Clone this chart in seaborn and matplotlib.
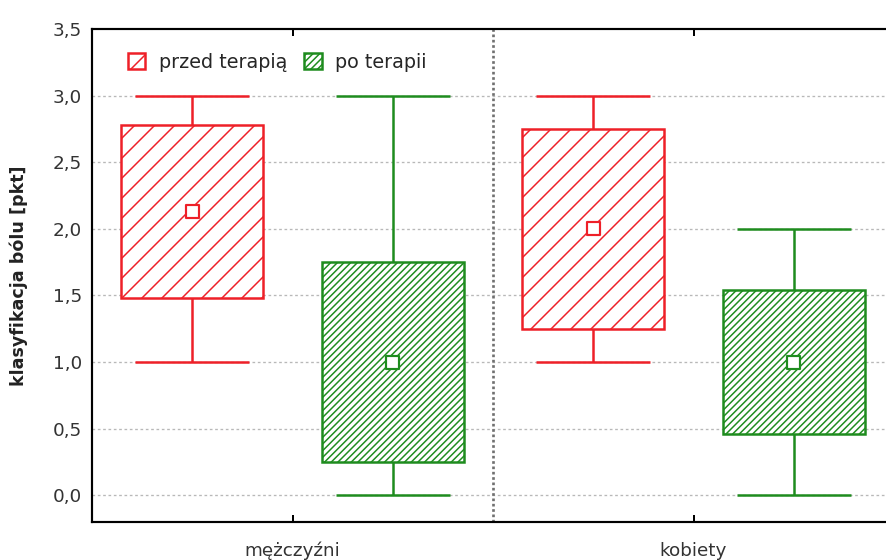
import matplotlib
matplotlib.use("Agg")
import matplotlib.pyplot as plt
from matplotlib.patches import Patch
import pandas as pd
import seaborn as sns

# Groups and series
groups = ["mężczyźni", "kobiety"]
series = ["przed terapią", "po terapii"]

# Mean ± SD boxes, min–max whiskers
mean_before = [2.13, 2.00]
sd_before = [0.65, 0.75]
min_before = [1.0, 1.0]
max_before = [3.0, 3.0]

mean_after = [1.00, 1.00]
sd_after = [0.75, 0.54]
min_after = [0.0, 0.0]
max_after = [3.0, 2.0]

y_ticks = [0.0, 0.5, 1.0, 1.5, 2.0, 2.5, 3.0, 3.5]
y_tick_labels = ["0,0", "0,5", "1,0", "1,5", "2,0", "2,5", "3,0", "3,5"]

sns.set_style("white")
plt.rcParams["font.family"] = ["DejaVu Sans"]
plt.rcParams["hatch.linewidth"] = 0.9

RED = "#ee2028"
GREEN = "#1e8c1e"
colors = {"przed terapią": RED, "po terapii": GREEN}
hatches = {"przed terapią": "//", "po terapii": "//////"}
offsets = {"przed terapią": -0.25, "po terapii": 0.25}

rows = []
for i, g in enumerate(groups):
    rows.append(dict(group=g, gi=i, series=series[0], mean=mean_before[i],
                     sd=sd_before[i], lo=min_before[i], hi=max_before[i]))
    rows.append(dict(group=g, gi=i, series=series[1], mean=mean_after[i],
                     sd=sd_after[i], lo=min_after[i], hi=max_after[i]))
df = pd.DataFrame(rows)
df["x"] = df["gi"] + df["series"].map(offsets)

fig = plt.figure(figsize=(886 / 120, 560 / 120), dpi=120)
ax = fig.add_axes([92 / 886, 38 / 560, 802 / 886, 493 / 560])

box_w = 0.355
cap_w = 0.285
lw = 1.5

# light dotted grid behind everything
for yv in y_ticks[:-1]:
    ax.axhline(yv, color="#b8b8b8", lw=0.8, ls=(0, (2, 2)), zorder=0)
# divider between the two groups
ax.axvline(0.5, color="#707070", lw=1.6, ls=(0, (1, 1)), zorder=1)

for _, r in df.iterrows():
    c = colors[r["series"]]
    top = r["mean"] + r["sd"]
    bot = r["mean"] - r["sd"]
    # whiskers
    ax.vlines(r["x"], top, r["hi"], color=c, lw=lw, zorder=2)
    ax.vlines(r["x"], r["lo"], bot, color=c, lw=lw, zorder=2)
    ax.hlines([r["hi"], r["lo"]], r["x"] - cap_w / 2, r["x"] + cap_w / 2,
              color=c, lw=lw, zorder=2)
    # box
    ax.bar(r["x"], top - bot, bottom=bot, width=box_w, facecolor="white",
           edgecolor=c, hatch=hatches[r["series"]], linewidth=lw, zorder=3)

# mean markers
sns.scatterplot(data=df, x="x", y="mean", hue="series", palette=colors,
                marker="s", s=60, linewidth=1.3, legend=False, ax=ax, zorder=5)
sc = ax.collections[-1]
sc.set_edgecolors([colors[s] for s in df["series"]])
sc.set_facecolors("white")

ax.set_xlim(-0.5, 1.5)
ax.set_ylim(-0.2, 3.5)
ax.set_xticks(range(len(groups)))
ax.set_xticklabels(groups)
ax.set_yticks(y_ticks)
ax.set_yticklabels(y_tick_labels)
ax.set_xlabel("")
ax.set_ylabel("klasyfikacja bólu [pkt]", fontsize=10.5, fontweight="bold",
              color="#222222")
ax.yaxis.set_label_coords(-0.08, 0.5)

ax.tick_params(axis="y", direction="in", length=4, width=1.2, pad=6,
               labelsize=11, labelcolor="#333333", color="black")
ax.tick_params(axis="x", direction="in", length=4, width=1.2, pad=12,
               labelsize=11, labelcolor="#333333", color="black",
               top=True, bottom=True)

for side in ["left", "top", "bottom", "right"]:
    ax.spines[side].set_visible(True)
    ax.spines[side].set_color("black")
    ax.spines[side].set_linewidth(1.3)

handles = [Patch(facecolor="white", edgecolor=colors[s], hatch=hatches[s],
                 linewidth=1.5) for s in series]
ax.legend(handles, series, loc="center left", bbox_to_anchor=(0.045, 0.933),
          ncol=2, frameon=False, fontsize=11.5, handlelength=0.9,
          handleheight=0.9, handletextpad=0.7, columnspacing=0.9,
          borderpad=0, borderaxespad=0)

fig.savefig("out.png", dpi=120)
